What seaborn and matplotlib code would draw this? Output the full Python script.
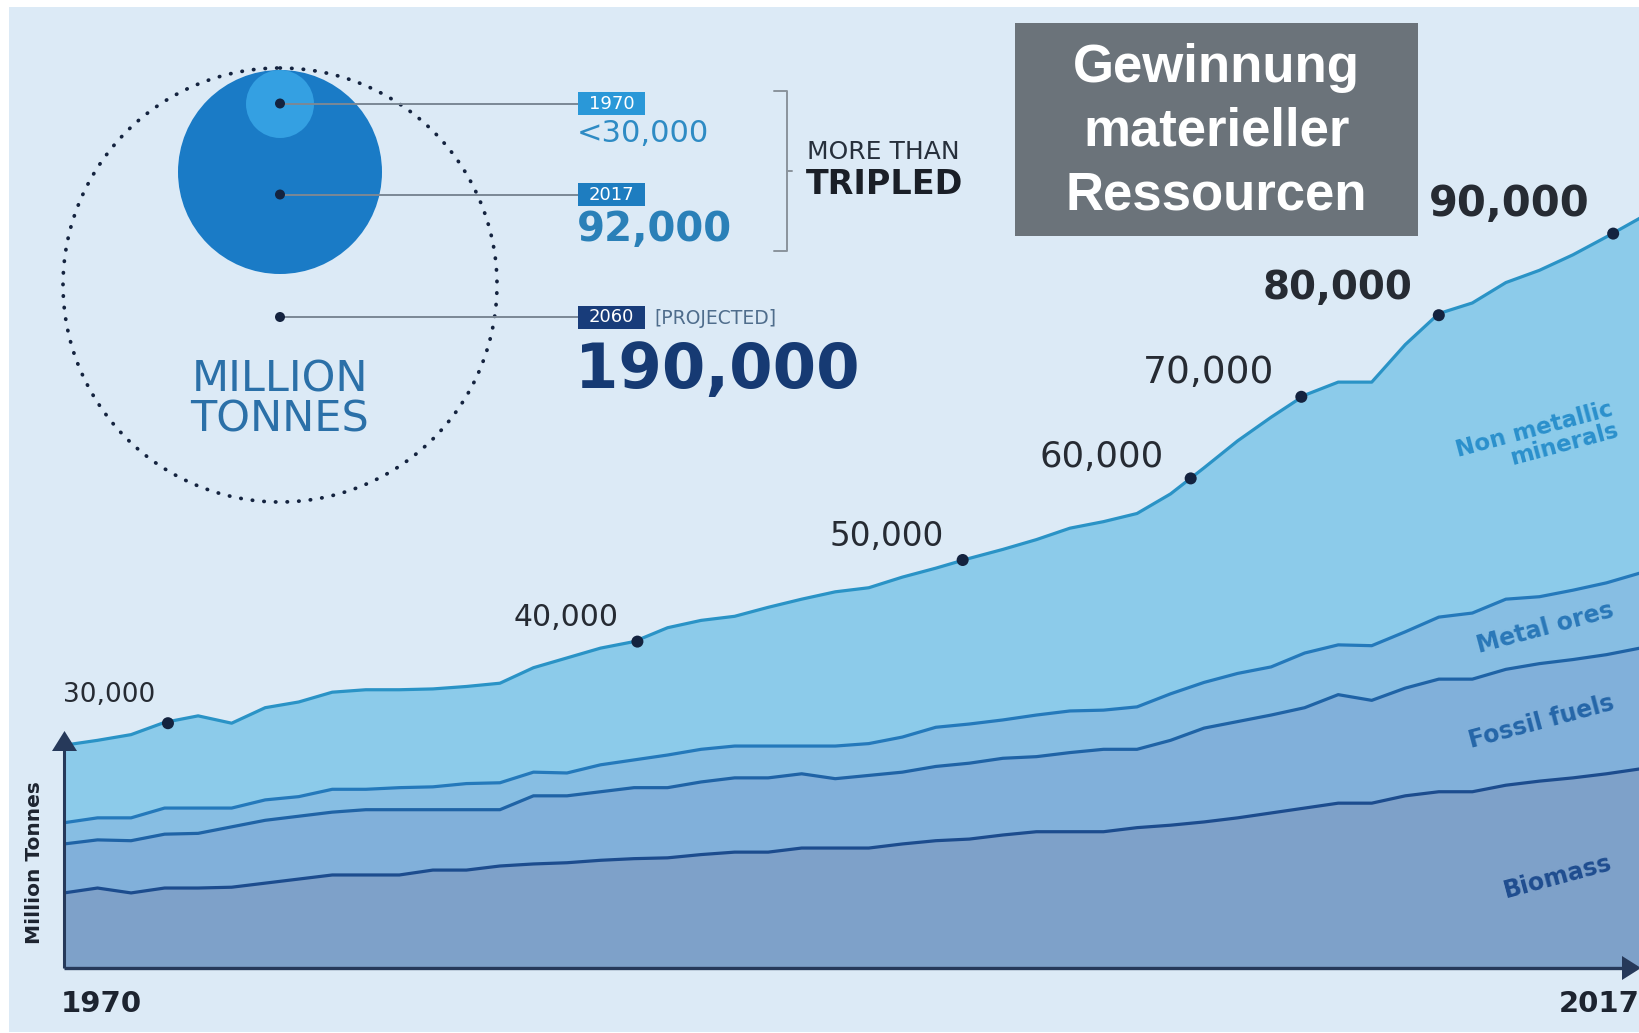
import numpy as np
import pandas as pd
import matplotlib
matplotlib.use("Agg")
import matplotlib.pyplot as plt
from matplotlib.patches import Circle, Rectangle, Polygon
import seaborn as sns

# ---------------------------------------------------------------- data
years = list(range(1970, 2018))

# material extraction by group, million tonnes
biomass = [9200, 9800, 9200, 9800, 9800, 9900, 10400, 10900, 11400, 11400,
           11400, 12000, 12000, 12500, 12750, 12900, 13200, 13400, 13500, 13900,
           14200, 14200, 14700, 14700, 14700, 15200, 15600, 15800, 16300, 16700,
           16700, 16700, 17200, 17500, 17900, 18400, 19000, 19600, 20200, 20200,
           21100, 21600, 21600, 22400, 22900, 23300, 23800, 24400]
fossil_fuels = [6000, 5900, 6400, 6600, 6700, 7400, 7700, 7700, 7700, 8000,
                8000, 7400, 7400, 6900, 8350, 8200, 8400, 8700, 8600, 8900,
                9100, 9100, 9100, 8500, 8900, 8800, 9100, 9300, 9400, 9200,
                9700, 10100, 9600, 10400, 11500, 11800, 12000, 12300, 13300, 12600,
                13200, 13800, 13800, 14200, 14400, 14500, 14600, 14800]
metal_ores = [2600, 2700, 2800, 3200, 3100, 2300, 2500, 2400, 2800, 2500,
              2700, 2800, 3200, 3300, 2900, 2800, 3300, 3400, 4000, 4000,
              3900, 3900, 3400, 4000, 3900, 4300, 4800, 4800, 4700, 5100,
              5100, 4800, 5200, 5700, 5600, 5900, 5900, 6700, 6100, 6700,
              6900, 7600, 8100, 8600, 8200, 8500, 8800, 9200]
non_metallic = [9500, 9500, 10200, 10500, 11300, 10400, 11300, 11600, 11900, 12200,
                12000, 12000, 11900, 12200, 12800, 14100, 14300, 14500, 15600, 15800,
                15900, 17000, 18000, 18900, 19100, 19600, 19500, 20300, 20900, 21500,
                22400, 23100, 23700, 24500, 26300, 28500, 30600, 31600, 32200, 32300,
                35200, 37200, 38000, 38800, 40000, 41100, 42400, 43500]

layer_names = ["Biomass", "Fossil fuels", "Metal ores", "Non metallic\nminerals"]

# points where the total passes each 10,000 mark
milestone_years = [1973.1, 1987.1, 1996.8, 2003.6, 2006.9, 2011.0, 2016.2]
milestone_values = [30000, 40000, 50000, 60000, 70000, 80000, 90000]
milestone_labels = ["30,000", "40,000", "50,000", "60,000", "70,000", "80,000", "90,000"]

summary_years = ["1970", "2017", "2060"]
summary_values = ["<30,000", "92,000", "190,000"]

title_lines = ["Gewinnung", "materieller", "Ressourcen"]

# ---------------------------------------------------------------- style
sns.set_theme(style="white")
plt.rcParams["font.family"] = ["DejaVu Sans"]

BG = "#dceaf6"
fill_colors = ["#7ea1c9", "#81b0da", "#87bee3", "#8ccbea"]
line_colors = ["#1c4c8e", "#1f63a6", "#2479bb", "#2a93c6"]
label_colors = ["#1f4d8f", "#2566a8", "#2a78b8", "#2b90cc"]
NAVY = "#14233f"
INK = "#1d2430"

W, H = 1640, 1033
fig = plt.figure(figsize=(W / 100, H / 100), dpi=100, facecolor="white")

# background panel (pixel coordinates)
bg = fig.add_axes([0, 0, 1, 1], zorder=0)
bg.set_xlim(0, W)
bg.set_ylim(H, 0)
bg.axis("off")
bg.add_patch(Rectangle((9, 7), W - 9, H - 8, facecolor=BG, lw=0))

# ---------------------------------------------------------------- stacked area chart
ax = fig.add_axes([64 / W, 65 / H, (W - 64) / W, 938.4 / H], zorder=1)
ax.set_xlim(1970, 2017)
ax.set_ylim(0, 115000)
ax.patch.set_alpha(0)
ax.axis("off")

ax.stackplot(years, biomass, fossil_fuels, metal_ores, non_metallic,
             colors=fill_colors, linewidth=0)

stack = np.cumsum(np.vstack([biomass, fossil_fuels, metal_ores, non_metallic]), axis=0)
long = pd.DataFrame({
    "year": years * 4,
    "value": stack.ravel(),
    "layer": np.repeat(layer_names, len(years)),
})
sns.lineplot(data=long, x="year", y="value", hue="layer",
             palette=dict(zip(layer_names, line_colors)),
             linewidth=2.3, legend=False, estimator=None, sort=False, ax=ax,
             solid_joinstyle="round")

sns.scatterplot(x=milestone_years, y=milestone_values, color=NAVY, s=75,
                edgecolor="none", zorder=6, ax=ax)

# ---------------------------------------------------------------- overlay (pixel coordinates)
ov = fig.add_axes([0, 0, 1, 1], zorder=2)
ov.set_xlim(0, W)
ov.set_ylim(H, 0)
ov.patch.set_alpha(0)
ov.axis("off")

# axes with arrow heads
AX_C = "#26395a"
ov.plot([64, 64], [968, 745], color=AX_C, lw=2.2, solid_capstyle="butt")
ov.add_patch(Polygon([[52, 751], [77, 751], [64.5, 731]], closed=True, color=AX_C, lw=0))
ov.plot([64, 1626], [968, 968], color=AX_C, lw=2.4, solid_capstyle="butt")
ov.add_patch(Polygon([[1622, 956], [1622, 980], [1641, 968]], closed=True, color=AX_C, lw=0))

ov.text(101, 1004, "1970", fontsize=21, fontweight="bold", color=INK, ha="center", va="center")
ov.text(1640, 1004, "2017", fontsize=21, fontweight="bold", color=INK, ha="right", va="center")
ov.text(35, 863, "Million Tonnes", fontsize=14.5, fontweight="bold", color=INK,
        rotation=90, ha="center", va="center")

# milestone labels
ms_pos = [(109, 695), (566, 618), (887, 536), (1102, 457), (1209, 373), (1338, 288), (1509, 204)]
ms_size = [19, 21.5, 23.5, 25.5, 27, 28, 30]
ms_weight = ["normal"] * 5 + ["bold", "bold"]
for (px, py), lab, fs, fw in zip(ms_pos, milestone_labels, ms_size, ms_weight):
    ov.text(px, py, lab, fontsize=fs, fontweight=fw, color="#262b33",
            ha="center", va="center")

# layer labels
layer_pos = [(1558, 877), (1541, 722), (1545, 628), (1537, 440)]
for (px, py), name, col in zip(layer_pos, layer_names, label_colors):
    ov.text(px, py, name, fontsize=17 if "\n" not in name else 16.5,
            fontweight="bold", color=col, rotation=15,
            ha="center", va="center", rotation_mode="anchor", linespacing=0.95,
            multialignment="right")

# title box
ov.add_patch(Rectangle((1015, 23), 403, 213, facecolor="#6b737a", lw=0))
for ty, line in zip([68, 132, 195], title_lines):
    ov.text(1216.5, ty, line, fontsize=38, fontweight="bold", color="white",
            family="Liberation Sans", ha="center", va="center")

# ---------------------------------------------------------------- infographic
ov.add_patch(Circle((280, 285), 217, facecolor="none", edgecolor=NAVY, lw=2.7,
                    linestyle=(0, (0.1, 3.0)), capstyle="round"))
ov.add_patch(Circle((280, 172), 102, facecolor="#1a7bc6", lw=0))
ov.add_patch(Circle((280, 104), 34, facecolor="#34a0e2", lw=0))

dot_y = [103.5, 194.5, 317]
box_colors = ["#2a98d8", "#1e7dc0", "#183c7a"]
for y, yr, bc in zip(dot_y, summary_years, box_colors):
    ov.plot([280, 578], [y, y], color="#7b8895", lw=1.4, zorder=3)
    ov.add_patch(Circle((280, y), 5, facecolor=NAVY, lw=0, zorder=4))
    ov.add_patch(Rectangle((578, y - 11.5), 67, 23, facecolor=bc, lw=0, zorder=4))
    ov.text(611.5, y + 0.5, yr, fontsize=13, color="white", ha="center", va="center", zorder=5)

ov.text(654, 318, "[PROJECTED]", fontsize=13.5, color="#4f6d8c", ha="left", va="center")
ov.text(577, 134, summary_values[0], fontsize=22, color="#2e8bc4", ha="left", va="center")
ov.text(577, 230, summary_values[1], fontsize=29, fontweight="bold", color="#2a80b8",
        ha="left", va="center")
ov.text(575, 371, summary_values[2], fontsize=45, fontweight="bold", color="#163a73",
        ha="left", va="center")

ov.text(280, 379, "MILLION", fontsize=31, color="#2b70a8", ha="center", va="center")
ov.text(280, 419, "TONNES", fontsize=31, color="#2b70a8", ha="center", va="center")

# bracket
BR = "#8a939c"
ov.plot([774, 787, 787, 774], [91, 91, 251, 251], color=BR, lw=1.4)
ov.plot([787, 792], [171, 171], color=BR, lw=1.4)
ov.text(807, 152, "MORE THAN", fontsize=18, color="#27303c", ha="left", va="center")
ov.text(806, 184, "TRIPLED", fontsize=24, fontweight="bold", color="#1a1f27",
        ha="left", va="center")

fig.savefig("out.png", dpi=100, facecolor=fig.get_facecolor())
